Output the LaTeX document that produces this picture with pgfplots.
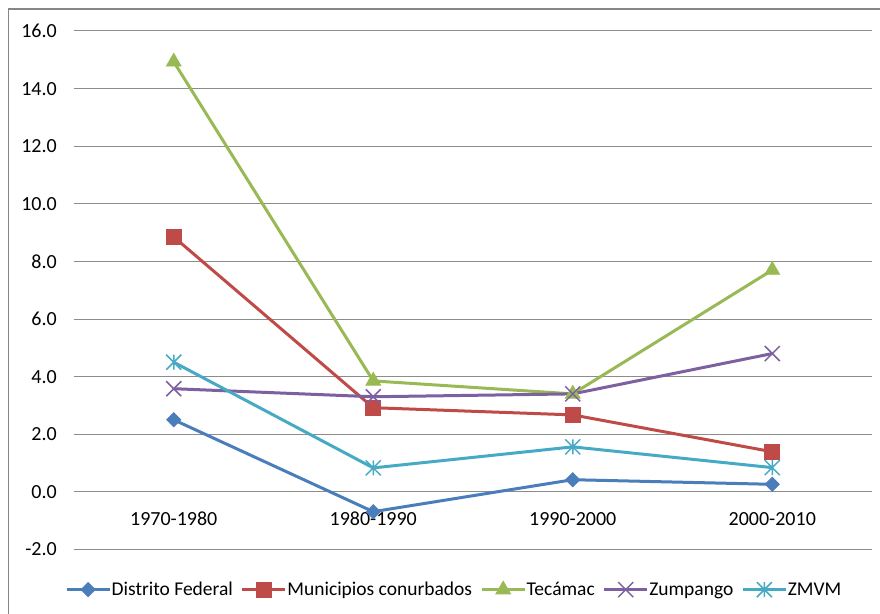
\documentclass[border=0pt]{standalone}
\usepackage{fontspec}
\setmainfont{Carlito}
\usepackage{pgfplots}
\pgfplotsset{compat=1.18}
\definecolor{gridgray}{HTML}{8C8C8C}
\definecolor{bordergray}{HTML}{868686}
\definecolor{cblue}{HTML}{4A7EBB}
\definecolor{cred}{HTML}{BE4B48}
\definecolor{cgreen}{HTML}{98B954}
\definecolor{cpurple}{HTML}{7D60A0}
\definecolor{ccyan}{HTML}{46AAC5}
\pgfdeclareplotmark{xx}{%
  \pgfpathmoveto{\pgfqpoint{-\pgfplotmarksize}{-\pgfplotmarksize}}%
  \pgfpathlineto{\pgfqpoint{\pgfplotmarksize}{\pgfplotmarksize}}%
  \pgfpathmoveto{\pgfqpoint{-\pgfplotmarksize}{\pgfplotmarksize}}%
  \pgfpathlineto{\pgfqpoint{\pgfplotmarksize}{-\pgfplotmarksize}}%
  \pgfusepathqstroke}
\pgfdeclareplotmark{xstar}{%
  \pgfpathmoveto{\pgfqpoint{-\pgfplotmarksize}{-\pgfplotmarksize}}%
  \pgfpathlineto{\pgfqpoint{\pgfplotmarksize}{\pgfplotmarksize}}%
  \pgfpathmoveto{\pgfqpoint{-\pgfplotmarksize}{\pgfplotmarksize}}%
  \pgfpathlineto{\pgfqpoint{\pgfplotmarksize}{-\pgfplotmarksize}}%
  \pgfpathmoveto{\pgfqpoint{0pt}{-\pgfplotmarksize}}%
  \pgfpathlineto{\pgfqpoint{0pt}{\pgfplotmarksize}}%
  \pgfusepathqstroke}
\begin{document}
\begin{tikzpicture}
\path[use as bounding box] (-74pt,-64pt) rectangle (806pt,549.4pt);
\draw[bordergray, line width=1.5pt] (-65.7pt,-70pt) -- (-65.7pt,540.4pt) -- (812pt,540.4pt);
\begin{axis}[
  at={(0pt,0pt)}, anchor=south west,
  scale only axis, width=798pt, height=518.4pt,
  xmin=-0.5, xmax=3.5, ymin=-2, ymax=16,
  ytick={-2,0,...,16},
  xtick={0,1,2,3},
  xticklabels={1970-1980,1980-1990,1990-2000,2000-2010},
  axis x line=middle, axis y line=left,
  x axis line style={draw=gridgray, line width=1pt, -},
  y axis line style={draw=none},
  major tick length=0pt,
  ymajorgrids, grid style={gridgray, line width=1pt},
  clip=false,
  /pgf/number format/assume math mode=true,
  yticklabel={\pgfmathprintnumber[fixed,fixed zerofill,precision=1]{\tick}},
  tick label style={font=\fontsize{20}{24}\selectfont, text=black},
  yticklabel style={anchor=east, inner sep=0pt, xshift=-17pt},
  xticklabel style={anchor=center, inner sep=0pt, yshift=-27pt},
  legend columns=5,
  legend style={at={(0.4756,-0.0772)}, anchor=center, draw=none, fill=none,
    font=\fontsize{19.5}{23}\selectfont,
    /tikz/every even column/.append style={column sep=7.5pt},
    nodes={inner sep=0.5pt}},
  legend image code/.code={\draw[mark repeat=2,mark phase=2] plot coordinates {(0pt,0pt) (21.5pt,0pt) (43pt,0pt)};},
  every axis plot/.append style={line width=3pt},
]
\addplot[cblue, mark=square*, mark size=5pt, mark options={rotate=45, line width=0.75pt, fill=cblue}]
  coordinates {(0,2.5) (1,-0.69) (2,0.42) (3,0.26)};
\addlegendentry{Distrito Federal}
\addplot[cred, mark=square*, mark size=7.5pt, mark options={line width=0.75pt, fill=cred}]
  coordinates {(0,8.85) (1,2.92) (2,2.67) (3,1.39)};
\addlegendentry{Municipios conurbados}
\addplot[cgreen, mark=triangle*, mark size=8.5pt, mark options={line width=0.75pt, fill=cgreen}]
  coordinates {(0,14.93) (1,3.85) (2,3.4) (3,7.7)};
\addlegendentry{Tecámac}
\addplot[cpurple, mark=xx, mark size=7.5pt, mark options={line width=1.5pt}]
  coordinates {(0,3.58) (1,3.3) (2,3.4) (3,4.8)};
\addlegendentry{Zumpango}
\addplot[ccyan, mark=xstar, mark size=7.5pt, mark options={line width=1.5pt}]
  coordinates {(0,4.5) (1,0.83) (2,1.56) (3,0.84)};
\addlegendentry{ZMVM}
\end{axis}
\end{tikzpicture}
\end{document}
